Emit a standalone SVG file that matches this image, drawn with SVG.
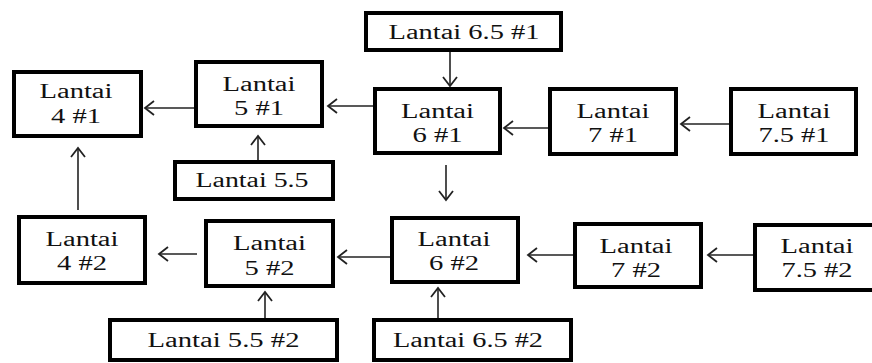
<svg xmlns="http://www.w3.org/2000/svg" width="872" height="363" viewBox="0 0 872 363">
  <style>
    .box { fill: #fff; stroke: #000; stroke-width: 4; }
    .lbl { font-family: "Liberation Serif", "Times New Roman", serif; font-size: 20px; fill: #111; text-anchor: middle; }
    .wire { stroke: #222; stroke-width: 1.6; fill: none; marker-end: url(#head); }
  </style>
  <defs>
    <marker id="head" markerUnits="userSpaceOnUse" markerWidth="20" markerHeight="20" refX="0" refY="0" viewBox="-12 -10 14 20" orient="auto">
      <path d="M-9,-7 L0,0 L-9,7" fill="none" stroke="#222" stroke-width="1.8"/>
    </marker>
  </defs>
  <rect width="872" height="363" fill="#fff"/>

  <!-- floor-to-floor links -->
  <g id="connectors">
    <line class="wire" x1="194" y1="108" x2="145" y2="108"/>
    <line class="wire" x1="373" y1="106" x2="328" y2="106"/>
    <line class="wire" x1="548" y1="128" x2="504" y2="128"/>
    <line class="wire" x1="729" y1="124" x2="681" y2="124"/>
    <line class="wire" x1="450" y1="52" x2="450" y2="86"/>
    <line class="wire" x1="446" y1="165" x2="446" y2="200"/>
    <line class="wire" x1="258" y1="161" x2="258" y2="136"/>
    <line class="wire" x1="78" y1="210" x2="78" y2="148"/>
    <line class="wire" x1="197" y1="254" x2="159" y2="254"/>
    <line class="wire" x1="390" y1="257" x2="338" y2="257"/>
    <line class="wire" x1="573" y1="255" x2="528" y2="255"/>
    <line class="wire" x1="753" y1="255" x2="708" y2="255"/>
    <line class="wire" x1="265" y1="318" x2="265" y2="292"/>
    <line class="wire" x1="438" y1="318" x2="438" y2="288"/>
  </g>

  <g id="lantai-4-1">
    <rect class="box" x="14" y="72" width="127" height="64"/>
    <text class="lbl" x="76" y="98" textLength="73" lengthAdjust="spacingAndGlyphs">Lantai</text>
    <text class="lbl" x="76" y="123" textLength="50" lengthAdjust="spacingAndGlyphs">4 #1</text>
  </g>
  <g id="lantai-5-1">
    <rect class="box" x="196" y="62" width="126" height="64"/>
    <text class="lbl" x="259" y="91" textLength="73" lengthAdjust="spacingAndGlyphs">Lantai</text>
    <text class="lbl" x="259" y="115" textLength="50" lengthAdjust="spacingAndGlyphs">5 #1</text>
  </g>
  <g id="lantai-6-5-1">
    <rect class="box" x="366" y="13" width="195" height="37"/>
    <text class="lbl" x="464" y="39" textLength="151" lengthAdjust="spacingAndGlyphs">Lantai 6.5 #1</text>
  </g>
  <g id="lantai-6-1">
    <rect class="box" x="375" y="89" width="125" height="64"/>
    <text class="lbl" x="437.5" y="118" textLength="73" lengthAdjust="spacingAndGlyphs">Lantai</text>
    <text class="lbl" x="437.5" y="142" textLength="50" lengthAdjust="spacingAndGlyphs">6 #1</text>
  </g>
  <g id="lantai-7-1">
    <rect class="box" x="550" y="89" width="126" height="65"/>
    <text class="lbl" x="613" y="118" textLength="73" lengthAdjust="spacingAndGlyphs">Lantai</text>
    <text class="lbl" x="613" y="142" textLength="50" lengthAdjust="spacingAndGlyphs">7 #1</text>
  </g>
  <g id="lantai-7-5-1">
    <rect class="box" x="731" y="89" width="125" height="65"/>
    <text class="lbl" x="794" y="118" textLength="73" lengthAdjust="spacingAndGlyphs">Lantai</text>
    <text class="lbl" x="794" y="142" textLength="71" lengthAdjust="spacingAndGlyphs">7.5 #1</text>
  </g>
  <g id="lantai-5-5">
    <rect class="box" x="175" y="162" width="158" height="37"/>
    <text class="lbl" x="252" y="187" textLength="113" lengthAdjust="spacingAndGlyphs">Lantai 5.5</text>
  </g>
  <g id="lantai-4-2">
    <rect class="box" x="19" y="217" width="126" height="66"/>
    <text class="lbl" x="82" y="246" textLength="73" lengthAdjust="spacingAndGlyphs">Lantai</text>
    <text class="lbl" x="82" y="270" textLength="50" lengthAdjust="spacingAndGlyphs">4 #2</text>
  </g>
  <g id="lantai-5-2">
    <rect class="box" x="206" y="221" width="127" height="65"/>
    <text class="lbl" x="269.5" y="250" textLength="73" lengthAdjust="spacingAndGlyphs">Lantai</text>
    <text class="lbl" x="269.5" y="275" textLength="50" lengthAdjust="spacingAndGlyphs">5 #2</text>
  </g>
  <g id="lantai-6-2">
    <rect class="box" x="392" y="218" width="126" height="64"/>
    <text class="lbl" x="454" y="246" textLength="73" lengthAdjust="spacingAndGlyphs">Lantai</text>
    <text class="lbl" x="454" y="270" textLength="50" lengthAdjust="spacingAndGlyphs">6 #2</text>
  </g>
  <g id="lantai-7-2">
    <rect class="box" x="575" y="224" width="126" height="63"/>
    <text class="lbl" x="636" y="253" textLength="73" lengthAdjust="spacingAndGlyphs">Lantai</text>
    <text class="lbl" x="636" y="277" textLength="50" lengthAdjust="spacingAndGlyphs">7 #2</text>
  </g>
  <g id="lantai-7-5-2">
    <rect class="box" x="755" y="225" width="125" height="65"/>
    <text class="lbl" x="817" y="253" textLength="73" lengthAdjust="spacingAndGlyphs">Lantai</text>
    <text class="lbl" x="817" y="277" textLength="71" lengthAdjust="spacingAndGlyphs">7.5 #2</text>
  </g>
  <g id="lantai-5-5-2">
    <rect class="box" x="110" y="320" width="227" height="40"/>
    <text class="lbl" x="223.5" y="347" textLength="152" lengthAdjust="spacingAndGlyphs">Lantai 5.5 #2</text>
  </g>
  <g id="lantai-6-5-2">
    <rect class="box" x="374" y="320" width="197" height="40"/>
    <text class="lbl" x="468" y="347" textLength="150" lengthAdjust="spacingAndGlyphs">Lantai 6.5 #2</text>
  </g>
</svg>
